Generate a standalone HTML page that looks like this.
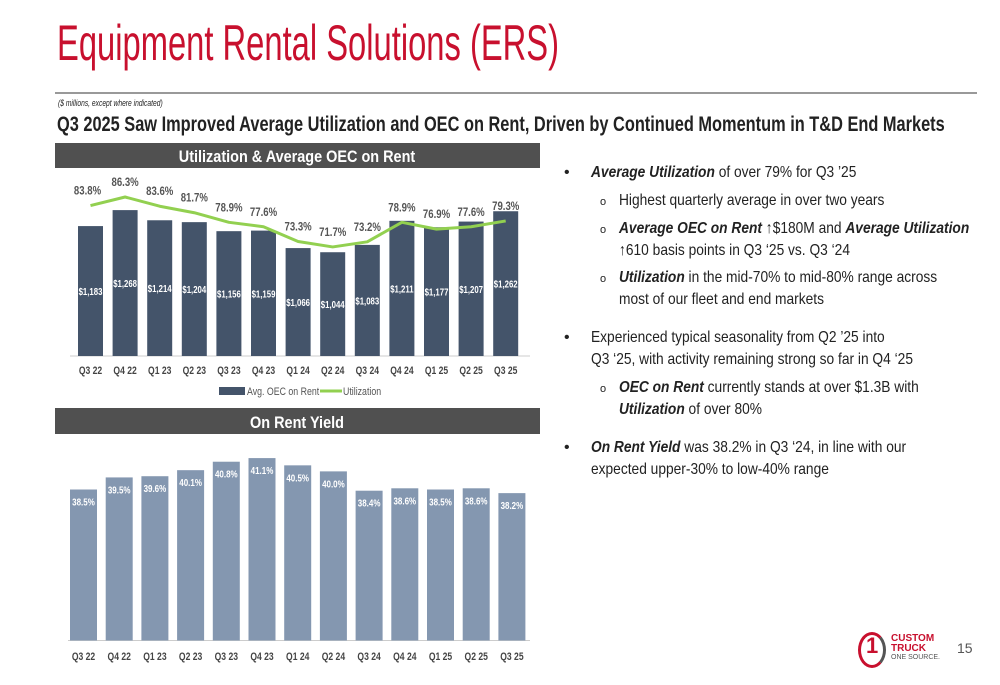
<!DOCTYPE html>
<html><head><meta charset="utf-8"><style>
body{margin:0;width:1000px;height:685px;background:#fff;position:relative;overflow:hidden;font-family:"Liberation Sans",sans-serif;color:#222}
.a{position:absolute;white-space:nowrap;transform-origin:0 0}
.t{font-size:16px;color:#222;transform:scaleX(0.86)}
.o{font-size:11px;color:#222}
.b{font-weight:bold;font-style:italic}
</style></head><body>
<div class="a fit" data-w="502" style="left:57px;top:14px;font-size:50px;color:#c8102e">Equipment Rental Solutions (ERS)</div>
<div class="a" style="left:55px;top:92px;width:922px;height:2px;background:#999"></div>
<div class="a fit" data-w="105" style="left:58px;top:98px;font-size:9px;font-style:italic">($ millions, except where indicated)</div>
<div class="a fit" data-w="888" style="left:57px;top:113px;font-size:21px;font-weight:bold;color:#222">Q3 2025 Saw Improved Average Utilization and OEC on Rent, Driven by Continued Momentum in T&amp;D End Markets</div>

<svg class="a" style="left:0;top:0" width="1000" height="685" id="charts"></svg>

<div>
<div class="a" style="left:564px;top:164px;font-size:16px">•</div>
<div class="a t" style="left:591px;top:164px"><span class="b">Average Utilization</span> of over 79% for Q3 ’25</div>
<div class="a o" style="left:600px;top:196px">o</div>
<div class="a t" style="left:619px;top:192px">Highest quarterly average in over two years</div>
<div class="a o" style="left:600px;top:224px">o</div>
<div class="a t" style="left:619px;top:220px"><span class="b">Average OEC on Rent</span> ↑$180M and <span class="b">Average Utilization</span></div>
<div class="a t" style="left:619px;top:242px">↑610 basis points in Q3 ‘25 vs. Q3 ‘24</div>
<div class="a o" style="left:600px;top:273px">o</div>
<div class="a t" style="left:619px;top:269px"><span class="b">Utilization</span> in the mid-70% to mid-80% range across</div>
<div class="a t" style="left:619px;top:291px">most of our fleet and end markets</div>
<div class="a" style="left:564px;top:329px;font-size:16px">•</div>
<div class="a t" style="left:591px;top:329px">Experienced typical seasonality from Q2 ’25 into</div>
<div class="a t" style="left:591px;top:351px">Q3 ‘25, with activity remaining strong so far in Q4 ‘25</div>
<div class="a o" style="left:600px;top:383px">o</div>
<div class="a t" style="left:619px;top:379px"><span class="b">OEC on Rent</span> currently stands at over $1.3B with</div>
<div class="a t" style="left:619px;top:401px"><span class="b">Utilization</span> of over 80%</div>
<div class="a" style="left:564px;top:439px;font-size:16px">•</div>
<div class="a t" style="left:591px;top:439px"><span class="b">On Rent Yield</span> was 38.2% in Q3 ‘24, in line with our</div>
<div class="a t" style="left:591px;top:461px">expected upper-30% to low-40% range</div>
</div>

<div>
<div class="a" style="left:858px;top:632px;width:22px;height:30px;border:3px solid #c8102e;border-right-color:#555;border-radius:50%"></div>
<div class="a" style="left:866px;top:633px;font-size:22px;font-weight:bold;color:#c8102e">1</div>
<div class="a" style="left:891px;top:634px;font-size:10px;font-weight:bold;color:#c8102e;line-height:10px">CUSTOM<br>TRUCK</div>
<div class="a" style="left:891px;top:654px;font-size:7px;color:#555">ONE SOURCE.</div>
</div>
<div class="a" style="left:957px;top:640px;font-size:14px;color:#555">15</div>

<script>
const categories=["Q3 22","Q4 22","Q1 23","Q2 23","Q3 23","Q4 23","Q1 24","Q2 24","Q3 24","Q4 24","Q1 25","Q2 25","Q3 25"];
const oecValues=[1183,1268,1214,1204,1156,1159,1066,1044,1083,1211,1177,1207,1262];
const utilValues=[83.8,86.3,83.6,81.7,78.9,77.6,73.3,71.7,73.2,78.9,76.9,77.6,79.3];
const yieldValues=[38.5,39.5,39.6,40.1,40.8,41.1,40.5,40.0,38.4,38.6,38.5,38.6,38.2];

document.querySelectorAll('.fit').forEach(e=>{const w=e.scrollWidth;e.style.transform='scaleX('+(+e.dataset.w/w)+')';});

const NS="http://www.w3.org/2000/svg";
const svg=document.getElementById('charts');
function mk(tag,attrs,text){const e=document.createElementNS(NS,tag);for(const k in attrs)e.setAttribute(k,attrs[k]);if(text!=null)e.textContent=text;svg.appendChild(e);return e;}
function txt(x,y,s,attrs,sx){const a=Object.assign({x:0,y:0,transform:'translate('+x+','+y+') scale('+(sx||0.8)+',1)','font-family':'"Liberation Sans",sans-serif'},attrs);return mk('text',a,s);}

const x1=i=>90.5+i*34.6;
const base1=356;
const yOec=v=>base1-(v-492)*0.188;
const yUtil=v=>197+(86.3-v)*3.42;

let h=mk('rect',{x:55,y:143,width:485,height:25,fill:'#505050'});


h=txt(297,162,'Utilization & Average OEC on Rent',{'text-anchor':'middle','font-size':17,'font-weight':'bold',fill:'#fff'},0.85);


let ax=mk('line',{x1:70,x2:530,y1:base1,y2:base1,stroke:'#ccc'});



oecValues.forEach((v,i)=>{
  const top=yOec(v);
  const r=mk('rect',{x:x1(i)-12.5,y:top,width:25,height:base1-top,fill:'#44546a'});
  
  
  const t=txt(x1(i),(top+base1)/2+4,'$'+v.toLocaleString('en-US'),{'text-anchor':'middle','font-size':10,'font-weight':'bold',fill:'#fff'},0.78);
  
  
  const c=txt(x1(i),374,categories[i],{'text-anchor':'middle','font-size':11,'font-weight':'bold',fill:'#444'},0.78);
  
  
});
let d='';
utilValues.forEach((v,i)=>{d+=(i?'L':'M')+x1(i)+' '+yUtil(v);});
let ln=mk('path',{d:d,fill:'none',stroke:'#92d050',"stroke-width":3,"stroke-linejoin":'round'});


utilValues.forEach((v,i)=>{
  const t=txt(x1(i)-(i===0?3:0),yUtil(v)-11,v.toFixed(1)+'%',{'text-anchor':'middle','font-size':12,'font-weight':'bold',fill:'#555'},0.8);
  
  
});
let lg=mk('rect',{x:219,y:387,width:26,height:8,fill:'#44546a'});


lg=txt(247,395,'Avg. OEC on Rent',{'font-size':11,fill:'#555'},0.8);


lg=mk('line',{x1:320,x2:342,y1:391,y2:391,stroke:'#92d050','stroke-width':3});


lg=txt(343,395,'Utilization',{'font-size':11,fill:'#555'},0.8);



const x2=i=>83.5+i*35.7;
const base2=640.5;
const yYield=v=>base2-(v-26)*12.08;
h=mk('rect',{x:55,y:408,width:485,height:26,fill:'#505050'});


h=txt(297,428,'On Rent Yield',{'text-anchor':'middle','font-size':17,'font-weight':'bold',fill:'#fff'},0.85);


ax=mk('line',{x1:68,x2:530,y1:base2,y2:base2,stroke:'#ccc'});


yieldValues.forEach((v,i)=>{
  const top=yYield(v);
  const r=mk('rect',{x:x2(i)-13.5,y:top,width:27,height:base2-top,fill:'#8497b0'});
  
  
  const t=txt(x2(i),top+16,v.toFixed(1)+'%',{'text-anchor':'middle','font-size':10,'font-weight':'bold',fill:'#fff'},0.8);
  
  
  const c=txt(x2(i),660,categories[i],{'text-anchor':'middle','font-size':11,'font-weight':'bold',fill:'#444'},0.78);
  
  
});
</script>
</body></html>
